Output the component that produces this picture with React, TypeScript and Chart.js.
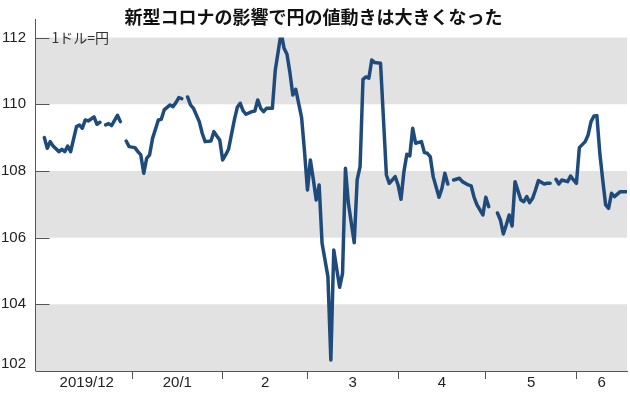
import React, { useEffect, useRef } from 'react';
import { Chart, registerables } from 'chart.js';

Chart.register(...registerables);

const TITLE = '新型コロナの影響で円の値動きは大きくなった';
const UNIT_LABEL = '1ドル=円';

// day offset from 2019-12-01 (null value = no quote, line breaks)
const dayIndex = [
  1, 2, 3, 4, 6, 7, 8, 9, 10, 12, 13, 14, 15, 16, 18, 19, 20, 21, 22, 23, 24, 26, 27, 28,
  29, 30, 32, 33, 34, 35, 36, 37, 38, 40, 41, 42, 44, 45, 46, 47, 48, 49,
  50, 51, 52, 54, 55, 56, 58, 59, 60, 61, 62, 63, 64, 66, 67, 68, 69, 70, 72, 73, 74, 75, 76, 77, 79,
  80, 82, 83, 84, 85, 86, 87, 89, 90, 91, 92, 93, 94, 95, 96, 98, 99, 100, 102, 103, 104, 105, 107,
  108, 109, 110, 111, 112, 113, 114, 116, 118, 119, 121, 122, 123, 124, 125, 126, 127, 128, 130,
  131, 132, 133, 134, 136, 137, 138, 139, 140, 141, 143, 144, 146, 147, 148, 149, 151, 152, 153, 154,
  156, 157, 158, 159, 160, 161, 162, 164, 165, 166, 167, 168, 169, 170, 172, 173, 174, 175,
  176, 177, 178, 180, 181, 182, 183, 184, 186, 187, 188, 189, 190, 191, 192, 193, 194, 195, 196, 198, 200,
];

const yenPerDollar: (number | null)[] = [
  109.0, 108.68, 108.88, 108.75, 108.58, 108.65, 108.58, 108.75, 108.58, 109.33, 109.38, 109.28, 109.53, 109.5, 109.62, 109.4, 109.46, null, 109.38, 109.42, 109.36, 109.67, 109.48, null,
  108.9, 108.73, 108.7, 108.58, 108.48, 107.93, 108.38, 108.48, 108.97, 109.53, 109.55, 109.83, 109.98, 109.93, 110.05, 110.2, 110.17, null,
  110.22, 109.98, 109.88, 109.48, 109.13, 108.88, 108.9, 109.18, 109.05, 108.93, 108.33, 108.48, 108.65, 109.53, 109.91, 110.03, 109.8, 109.7, 109.78, 109.8, 110.13, 109.88, 109.78, 109.88, 109.88,
  111.03, 112.15, 111.68, 111.5, 110.95, 110.28, 110.45, 109.6, 108.58, 107.43, 108.33, 107.75, 107.13, 107.58, 105.83, 104.83, 102.33, 105.63, 104.51, 104.93, 108.08, 107.03, 105.85,
  107.73, 108.13, 110.75, 110.82, 110.78, 111.33, 111.25, 111.23, 107.88, 107.63, 107.83, 107.58, 107.15, 107.98, 108.5, 108.45, 109.28, 108.83, 108.88,
  108.55, 108.53, 108.43, 107.83, 107.21, 107.48, 107.93, 107.61, null, 107.73, 107.78, 107.68, 107.58, 107.55, 107.21, 106.98, 106.68, 107.21, 106.93, null,
  106.74, 106.53, 106.11, 106.38, 106.68, 106.35, 107.68, 107.13, 107.08, 107.23, 107.05, 107.18, 107.43, 107.71, 107.61, 107.63, 107.63, null,
  107.75, 107.61, 107.73, 107.68, 107.85, 107.73, 107.63, 108.7, 108.88, 109.08, 109.48, 109.65, 109.66, 108.53, 107.73, 106.98, 106.88, 107.33, 107.23, 107.38, 107.38,
];

const monthStartDays = [0, 31, 62, 91, 122, 152, 183];
const monthLabels = ['2019/12', '20/1', '2', '3', '4', '5', '6'];
const yTickValues = [102, 104, 106, 108, 110, 112];
const shadedBands: [number, number][] = [
  [110, 112],
  [106, 108],
  [102, 104],
];

const X_MIN = -1.85;
const X_MAX = 200.3;

const boundaryTicks = monthStartDays.slice(1);
const labelTicks = monthStartDays.map((s, i) => (s + (monthStartDays[i + 1] ?? X_MAX)) / 2);

const NUM_FONT = '"Liberation Sans Narrow", "Liberation Sans", Arial, sans-serif';
const JP_FONT = '"Noto Sans CJK JP", sans-serif';
const AXIS_COLOR = '#555';
const BAND_COLOR = '#e2e2e2';
const LINE_COLOR = '#1f4b7c';

const decorPlugin = {
  id: 'decor',
  beforeDraw(chart: any) {
    const { ctx, chartArea } = chart;
    const y = chart.scales.y;
    ctx.save();
    ctx.fillStyle = BAND_COLOR;
    shadedBands.forEach(([lo, hi]) => {
      const top = y.getPixelForValue(hi);
      const bottom = y.getPixelForValue(lo);
      ctx.fillRect(chartArea.left, top, chartArea.right - chartArea.left, bottom - top);
    });
    ctx.restore();
  },
  afterDraw(chart: any) {
    const { ctx, chartArea } = chart;
    const y = chart.scales.y;
    const left = Math.round(chartArea.left) - 0.5;
    ctx.save();
    ctx.strokeStyle = AXIS_COLOR;
    ctx.lineWidth = 1;
    ctx.beginPath();
    ctx.moveTo(left, 19);
    ctx.lineTo(left, chartArea.bottom);
    yTickValues.forEach((v) => {
      const py = Math.round(y.getPixelForValue(v)) + 0.5;
      ctx.moveTo(left, py);
      ctx.lineTo(left + 14, py);
    });
    ctx.stroke();
    // y tick labels (bottom one kept inside the axis, as in the original)
    ctx.fillStyle = '#222';
    ctx.font = '15px ' + NUM_FONT;
    ctx.textAlign = 'right';
    ctx.textBaseline = 'middle';
    yTickValues.forEach((v) => {
      const py = Math.min(y.getPixelForValue(v), chartArea.bottom - 7);
      ctx.fillText(String(v), chartArea.left - 10, py);
    });
    ctx.fillStyle = '#333';
    ctx.font = '14px ' + JP_FONT;
    ctx.textAlign = 'left';
    ctx.fillText(UNIT_LABEL, left + 16, y.getPixelForValue(112));
    ctx.restore();
  },
};

export default function App() {
  const canvasRef = useRef<HTMLCanvasElement | null>(null);

  useEffect(() => {
    if (!canvasRef.current) return;
    const points = dayIndex.map((d, i) => ({ x: d, y: yenPerDollar[i] }));
    const chart = new Chart(canvasRef.current, {
      type: 'line',
      data: {
        datasets: [
          {
            data: points as any,
            borderColor: LINE_COLOR,
            borderWidth: 3.5,
            pointRadius: 0,
            tension: 0,
            spanGaps: false,
            borderJoinStyle: 'round',
            borderCapStyle: 'round',
          },
        ],
      },
      options: {
        animation: false,
        responsive: false,
        devicePixelRatio: 1,
        layout: { padding: { left: 0, right: 3, top: 0, bottom: 0 } },
        plugins: {
          legend: { display: false },
          tooltip: { enabled: false },
          title: {
            display: true,
            text: TITLE,
            color: '#111',
            font: { family: JP_FONT, size: 18, weight: 'bold' },
            padding: { top: 6, bottom: 10 },
          },
        },
        scales: {
          x: {
            type: 'linear',
            min: X_MIN,
            max: X_MAX,
            afterBuildTicks: (scale: any) => {
              scale.ticks = [...boundaryTicks, ...labelTicks]
                .sort((a, b) => a - b)
                .map((v) => ({ value: v }));
            },
            afterFit: (scale: any) => {
              scale.height = 22;
            },
            grid: {
              display: true,
              drawOnChartArea: false,
              drawTicks: true,
              tickLength: 8,
              tickColor: (c: any) =>
                c.tick && boundaryTicks.includes(c.tick.value) ? AXIS_COLOR : 'rgba(0,0,0,0)',
            },
            border: { display: true, color: AXIS_COLOR, width: 1 },
            ticks: {
              autoSkip: false,
              maxRotation: 0,
              padding: -5,
              color: '#222',
              font: { family: NUM_FONT, size: 15 },
              callback: (value: any) => {
                const i = labelTicks.indexOf(value);
                return i >= 0 ? monthLabels[i] : '';
              },
            },
          },
          y: {
            min: 102,
            max: 112,
            afterBuildTicks: (scale: any) => {
              scale.ticks = yTickValues.map((v) => ({ value: v }));
            },
            afterFit: (scale: any) => {
              scale.width = 36;
            },
            grid: { display: false, drawTicks: false },
            border: { display: false },
            ticks: { display: false },
          },
        },
      },
      plugins: [decorPlugin],
    });
    return () => chart.destroy();
  }, []);

  return (
    <div style={{ position: 'absolute', left: 0, top: 0, width: 630, height: 393 }}>
      <canvas ref={canvasRef} width={630} height={393} />
    </div>
  );
}
